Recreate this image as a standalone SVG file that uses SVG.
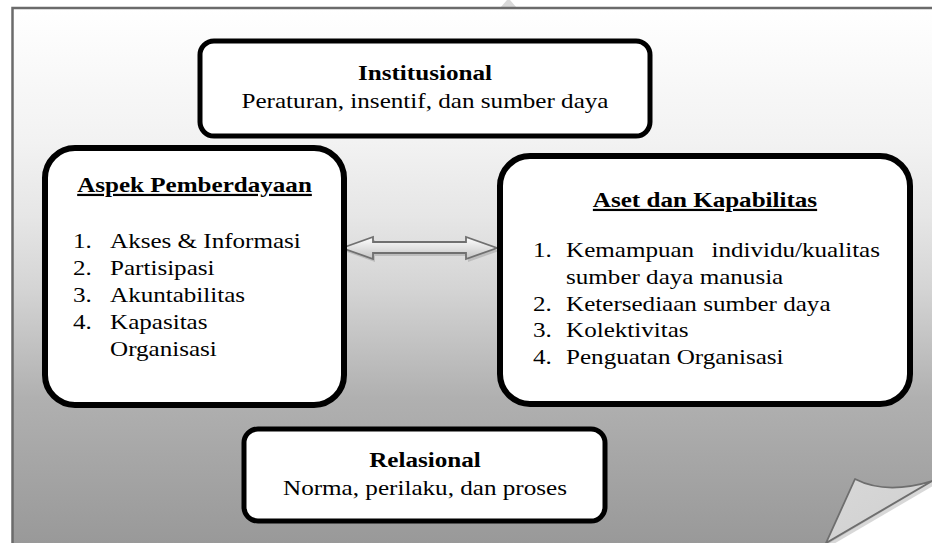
<svg xmlns="http://www.w3.org/2000/svg" width="932" height="543" viewBox="0 0 932 543">
<defs>
<linearGradient id="pageGrad" gradientUnits="userSpaceOnUse" x1="0" y1="8" x2="0" y2="543">
<stop offset="0" stop-color="#ffffff"/>
<stop offset="0.25" stop-color="#f2f2f2"/>
<stop offset="0.39" stop-color="#e6e6e6"/>
<stop offset="0.52" stop-color="#d5d5d5"/>
<stop offset="0.73" stop-color="#b0b0b0"/>
<stop offset="1" stop-color="#999999"/>
</linearGradient>
<linearGradient id="arrowGrad" x1="0" y1="0" x2="0" y2="1">
<stop offset="0" stop-color="#ffffff"/>
<stop offset="1" stop-color="#c4c4c4"/>
</linearGradient>
<linearGradient id="curlGrad" x1="0" y1="0" x2="1" y2="1">
<stop offset="0" stop-color="#d8d8d8"/>
<stop offset="1" stop-color="#cfcfcf"/>
</linearGradient>
<style>
.box{fill:#ffffff;stroke:#000000}
.t{font-family:"Liberation Serif","Times New Roman",serif;fill:#000000}
.title{font-weight:bold}
.u{text-decoration:underline}
</style>
</defs>
<rect x="0" y="0" width="932" height="543" fill="#ffffff"/>
<polygon points="500,8 507,0 510,0 517,8" fill="#d9d9d9"/>
<path d="M12.5,8 H934 V481 L826,545 H12.5 Z" fill="url(#pageGrad)"/>
<path d="M934,483 L828,545" stroke="#c8c8c8" stroke-width="4" fill="none" opacity="0.7"/>
<path d="M12.5,545 V8 H934" stroke="#6b6b6b" stroke-width="2.5" fill="none"/>
<path d="M826,543 L855,479 Q886,495 932,481 Z" fill="url(#curlGrad)" stroke="#6e6e6e" stroke-width="1.8" stroke-linejoin="round"/>

<g id="connectors">
<polygon points="344,251 375,240 375,245 468,245 468,240 499,251 468,262 468,256 375,256 375,262" fill="#a8a8a8" opacity="0.6"/>
<polygon points="342,248 373,237 373,242 466,242 466,237 497,248 466,259 466,253 373,253 373,259" fill="url(#arrowGrad)" stroke="#707070" stroke-width="1.8" stroke-linejoin="miter"/>
</g>

<g id="institutional">
<rect class="box" x="200" y="41" width="450" height="95" rx="14" stroke-width="5"/>
<g class="t" font-size="21.5" text-anchor="middle" transform="translate(425,0) scale(1.17,1)">
<text class="title" x="0" y="80">Institusional</text>
<text x="0" y="108">Peraturan, insentif, dan sumber daya</text>
</g>
</g>

<g id="aspek">
<rect class="box" x="45" y="148" width="299" height="257" rx="30" stroke-width="6"/>
<text class="t title u" x="0" y="192" font-size="22" text-anchor="middle" transform="translate(194.5,0) scale(1.14,1)">Aspek Pemberdayaan</text>
<g class="t" font-size="22" transform="translate(73,0) scale(1.14,1)">
<text x="0" y="248">1.</text><text x="32.5" y="248">Akses &amp; Informasi</text>
<text x="0" y="275">2.</text><text x="32.5" y="275">Partisipasi</text>
<text x="0" y="302">3.</text><text x="32.5" y="302">Akuntabilitas</text>
<text x="0" y="329">4.</text><text x="32.5" y="329">Kapasitas</text>
<text x="32.5" y="356">Organisasi</text>
</g>
</g>

<g id="aset">
<rect class="box" x="500" y="156" width="410" height="248" rx="30" stroke-width="6"/>
<text class="t title u" x="0" y="207" font-size="22" text-anchor="middle" transform="translate(705,0) scale(1.14,1)">Aset dan Kapabilitas</text>
<g class="t" font-size="22" transform="translate(533,0) scale(1.14,1)">
<text x="0" y="257">1.</text><text x="29" y="257">Kemampuan</text><text x="304.4" y="257" text-anchor="end">individu/kualitas</text>
<text x="29" y="284">sumber daya manusia</text>
<text x="0" y="311">2.</text><text x="29" y="311">Ketersediaan sumber daya</text>
<text x="0" y="337">3.</text><text x="29" y="337">Kolektivitas</text>
<text x="0" y="364">4.</text><text x="29" y="364">Penguatan Organisasi</text>
</g>
</g>

<g id="relasional">
<rect class="box" x="244" y="429" width="361" height="92" rx="14" stroke-width="5"/>
<g class="t" font-size="21.5" text-anchor="middle" transform="translate(425,0) scale(1.17,1)">
<text class="title" x="0" y="467">Relasional</text>
<text x="0" y="495">Norma, perilaku, dan proses</text>
</g>
</g>
</svg>
